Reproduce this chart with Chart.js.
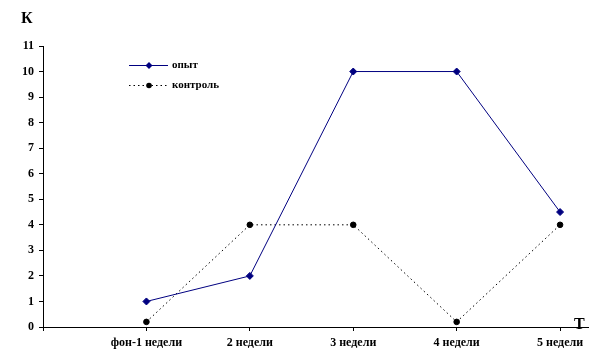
<!DOCTYPE html>
<html>
<head>
<meta charset="utf-8">
<script src="https://cdn.jsdelivr.net/npm/chart.js@4/dist/chart.umd.min.js"></script>
<style>
  body { margin: 0; background: #fff; }
  #wrap { width: 604px; height: 360px; }
</style>
</head>
<body>
<div id="wrap"><canvas id="chart" width="604" height="360"></canvas></div>
<script>
// data
const weeks = ["", "фон-1 недели", "2 недели", "3 недели", "4 недели", "5 недели"];
const opyt = [1, 2, 10, 10, 4.5];
const kontrol = [0.2, 4, 4, 0.2, 4];
const yTicks = [0, 1, 2, 3, 4, 5, 6, 7, 8, 9, 10, 11];

const serif = "'Liberation Serif', 'Times New Roman', serif";

// points sit on categories 1..5, 0 is the empty slot at the y axis
const toPoints = arr => arr.map((v, i) => ({ x: i + 1, y: v }));

// axis letters and the small legend drawn on the canvas
const extras = {
  id: "extras",
  afterDraw(chart) {
    const ctx = chart.ctx;
    ctx.save();
    ctx.fillStyle = "#000";
    ctx.font = "bold 16px " + serif;
    ctx.textBaseline = "middle";
    ctx.textAlign = "left";
    ctx.fillText("К", 21, 19);
    ctx.fillText("T", 574, 325);

    // legend
    ctx.font = "bold 11px " + serif;
    ctx.lineWidth = 1;
    ctx.strokeStyle = "#000080";
    ctx.beginPath();
    ctx.moveTo(129, 65.5);
    ctx.lineTo(168, 65.5);
    ctx.stroke();
    ctx.fillStyle = "#000080";
    ctx.beginPath();
    ctx.moveTo(149, 62);
    ctx.lineTo(152.5, 65.5);
    ctx.lineTo(149, 69);
    ctx.lineTo(145.5, 65.5);
    ctx.closePath();
    ctx.fill();

    ctx.strokeStyle = "#000";
    ctx.setLineDash([1.5, 3]);
    ctx.beginPath();
    ctx.moveTo(129, 85.5);
    ctx.lineTo(168, 85.5);
    ctx.stroke();
    ctx.setLineDash([]);
    ctx.fillStyle = "#000";
    ctx.beginPath();
    ctx.arc(149, 85.5, 2.8, 0, Math.PI * 2);
    ctx.fill();

    ctx.fillText("опыт", 172, 65);
    ctx.fillText("контроль", 172, 85);
    ctx.restore();
  }
};

new Chart(document.getElementById("chart"), {
  type: "line",
  data: {
    datasets: [
      {
        label: "опыт",
        data: toPoints(opyt),
        borderColor: "#000080",
        backgroundColor: "#000080",
        borderWidth: 1,
        pointStyle: "rectRot",
        pointRadius: 3.5,
        tension: 0
      },
      {
        label: "контроль",
        data: toPoints(kontrol),
        borderColor: "#000",
        backgroundColor: "#000",
        borderWidth: 1,
        borderDash: [1.5, 3],
        pointStyle: "circle",
        pointRadius: 2.8,
        tension: 0
      }
    ]
  },
  options: {
    responsive: false,
    animation: false,
    layout: { padding: { top: 46, right: 16, left: 0, bottom: 0 } },
    plugins: {
      legend: { display: false },
      tooltip: { enabled: false }
    },
    scales: {
      x: {
        type: "linear",
        min: 0,
        max: 5.27,
        afterBuildTicks: axis => {
          axis.ticks = weeks.map((w, i) => ({ value: i }));
        },
        afterFit: axis => { axis.height = 33; },
        ticks: {
          callback: v => weeks[v] || "",
          color: "#000",
          font: { family: serif, size: 12, weight: "bold" },
          padding: 5,
          maxRotation: 0,
          autoSkip: false
        },
        grid: { drawOnChartArea: false, drawTicks: true, tickLength: 4, color: "#000" },
        border: { color: "#000", width: 1 }
      },
      y: {
        min: 0,
        max: 11,
        afterBuildTicks: axis => {
          axis.ticks = yTicks.map(v => ({ value: v }));
        },
        afterFit: axis => { axis.width = 43; },
        ticks: {
          color: "#000",
          font: { family: serif, size: 12, weight: "bold" },
          padding: 5
        },
        grid: { drawOnChartArea: false, drawTicks: true, tickLength: 4, color: "#000" },
        border: { color: "#000", width: 1 }
      }
    }
  },
  plugins: [extras]
});
</script>
</body>
</html>
